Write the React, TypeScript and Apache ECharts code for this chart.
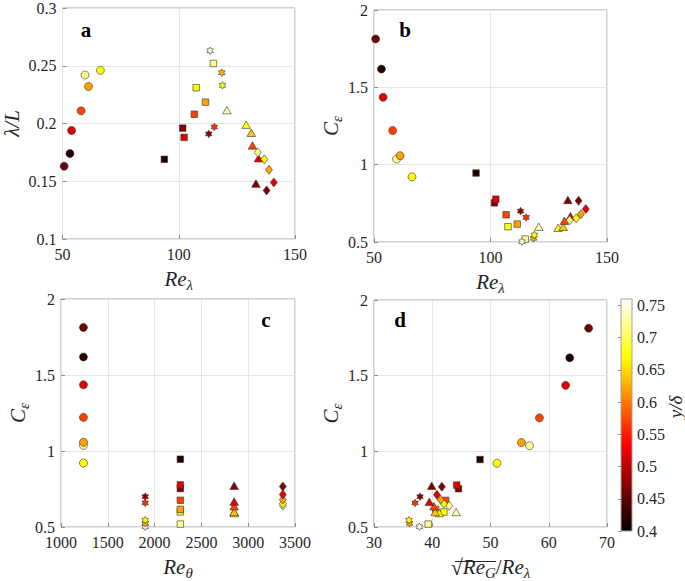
import React, { useEffect, useRef } from 'react';
import * as echarts from 'echarts';

const FONT = 'Liberation Serif';
const TEXT = '#262626';

// ---- data: y/delta (colour), Re_lambda, lambda/L, C_eps, sqrt(Re_G)/Re_lambda, Re_theta
const circleYd = [0.46, 0.42, 0.52, 0.57, 0.72, 0.62, 0.67];
const circleReLambda = [50.7, 53.2, 53.9, 58.0, 59.7, 61.2, 66.3];
const circleLambdaL = [0.163, 0.174, 0.194, 0.211, 0.242, 0.232, 0.246];
const circleCeps = [1.813, 1.618, 1.436, 1.221, 1.037, 1.058, 0.921];
const circleRatio = [66.85, 63.6, 62.9, 58.4, 56.7, 55.3, 51.1];
const circleReTheta = 1240;

const squareYd = [0.42, 0.47, 0.52, 0.57, 0.67, 0.62, 0.72];
const squareReLambda = [93.8, 101.7, 102.3, 106.7, 107.5, 111.5, 114.9];
const squareLambdaL = [0.169, 0.196, 0.188, 0.208, 0.231, 0.2185, 0.252];
const squareCeps = [0.946, 0.753, 0.777, 0.676, 0.599, 0.616, 0.519];
const squareRatio = [48.2, 44.5, 44.2, 42.3, 42.0, 40.6, 39.3];
const squareReTheta = 2275;

const hexYd = [0.75, 0.63, 0.67, 0.48, 0.56];
const hexReLambda = [113.5, 118.5, 118.8, 112.9, 115.3];
const hexLambdaL = [0.263, 0.244, 0.233, 0.191, 0.197];
const hexCeps = [0.502, 0.524, 0.545, 0.7, 0.659];
const hexRatio = [37.8, 36.1, 36.0, 37.9, 37.05];
const hexReTheta = 1900;

const triYd = [0.73, 0.67, 0.64, 0.57, 0.52, 0.47];
const triReLambda = [120.7, 129.0, 131.2, 131.7, 134.3, 133.2];
const triLambdaL = [0.2116, 0.199, 0.192, 0.181, 0.17, 0.148];
const triCeps = [0.599, 0.592, 0.599, 0.637, 0.667, 0.772];
const triRatio = [44.1, 41.2, 40.5, 40.3, 39.5, 39.9];
const triReTheta = 2850;

const diaYd = [0.72, 0.67, 0.62, 0.52, 0.47];
const diaReLambda = [134.0, 136.8, 138.8, 140.9, 137.8];
const diaLambdaL = [0.175, 0.169, 0.16, 0.149, 0.142];
const diaCeps = [0.641, 0.653, 0.68, 0.713, 0.766];
const diaRatio = [42.9, 42.0, 41.45, 40.8, 41.65];
const diaReTheta = 3370;

// axis ranges [min, max, interval]
const reLambdaAxis = [50, 150, 50];
const lambdaLAxis = [0.1, 0.3, 0.05];
const cepsAxis = [0.5, 2, 0.5];
const reThetaAxis = [1000, 3500, 500];
const ratioAxis = [30, 70, 10];
const ydAxis = [0.4, 0.76, 0.05];

// MATLAB "hot" colormap
const HOT = ['#000000', '#550000', '#aa0000', '#ff0000', '#ff5500', '#ffaa00', '#ffff00', '#ffff80', '#ffffff'];

const HEX_PATH =
  'path://M0,-100L29,-50L87,-50L58,0L87,50L29,50L0,100L-29,50L-87,50L-58,0L-87,-50L-29,-50Z';

const groups = [
  { symbol: 'circle', size: 8, yd: circleYd, reL: circleReLambda, lamL: circleLambdaL, ceps: circleCeps, ratio: circleRatio, reT: circleReTheta },
  { symbol: 'rect', size: 6.5, yd: squareYd, reL: squareReLambda, lamL: squareLambdaL, ceps: squareCeps, ratio: squareRatio, reT: squareReTheta },
  { symbol: HEX_PATH, size: [6.5, 7.5], yd: hexYd, reL: hexReLambda, lamL: hexLambdaL, ceps: hexCeps, ratio: hexRatio, reT: hexReTheta },
  { symbol: 'triangle', size: [8.5, 7.5], yd: triYd, reL: triReLambda, lamL: triLambdaL, ceps: triCeps, ratio: triRatio, reT: triReTheta },
  { symbol: 'diamond', size: [7, 9], yd: diaYd, reL: diaReLambda, lamL: diaLambdaL, ceps: diaCeps, ratio: diaRatio, reT: diaReTheta },
];

const rich = {
  i: { fontFamily: FONT, fontStyle: 'italic', fontSize: 21, lineHeight: 26, color: TEXT },
  s: { fontFamily: FONT, fontStyle: 'italic', fontSize: 15, lineHeight: 14, verticalAlign: 'bottom', color: TEXT },
  n: { fontFamily: FONT, fontSize: 21, lineHeight: 26, color: TEXT },
  r: { fontFamily: FONT, fontSize: 22, lineHeight: 26, color: TEXT },
};

const plainLabel = (v: number) => String(v);
const labelStyle = { fontFamily: FONT, fontSize: 16, color: TEXT };

function xAxisCfg(grid: number, range: number[], name: string, gap: number) {
  return {
    type: 'value', gridIndex: grid, min: range[0], max: range[1], interval: range[2],
    name, nameLocation: 'middle', nameGap: gap, nameTextStyle: { fontFamily: FONT, rich },
    axisLine: { show: false },
    axisTick: { show: true, inside: true, length: 4, lineStyle: { color: '#8c8c8c' } },
    axisLabel: { ...labelStyle, margin: 7, formatter: plainLabel },
    splitLine: { show: true, lineStyle: { color: '#e6e6e6', width: 1 } },
  };
}
function yAxisCfg(grid: number, range: number[], name: string, gap: number) {
  return {
    type: 'value', gridIndex: grid, min: range[0], max: range[1], interval: range[2],
    name, nameLocation: 'middle', nameGap: gap, nameTextStyle: { fontFamily: FONT, rich },
    axisLine: { show: false },
    axisTick: { show: true, inside: true, length: 4, lineStyle: { color: '#8c8c8c' } },
    axisLabel: { ...labelStyle, margin: 6, formatter: plainLabel },
    splitLine: { show: true, lineStyle: { color: '#e6e6e6', width: 1 } },
  };
}

function buildOption() {
  const grids: any[] = [
    { left: 62, top: 7, width: 233, height: 232 },
    { left: 374, top: 10, width: 233, height: 232 },
    { left: 61, top: 299, width: 234, height: 233 },
    { left: 374, top: 300, width: 233, height: 232 },
  ].map((g) => ({ ...g, show: true, borderColor: '#a0a0a0', borderWidth: 1, backgroundColor: '#fff' }));
  grids.push({
    left: 621, top: 299, width: 11, height: 232, show: true, borderColor: '#a0a0a0', borderWidth: 1,
    backgroundColor: {
      type: 'linear', x: 0, y: 1, x2: 0, y2: 0,
      colorStops: [
        { offset: 0, color: '#000000' },
        { offset: 0.375, color: '#ff0000' },
        { offset: 0.75, color: '#ffff00' },
        { offset: 1, color: '#ffffff' },
      ],
    },
  });

  const xAxes: any[] = [
    xAxisCfg(0, reLambdaAxis, '{i|Re}{s|λ}', 27),
    xAxisCfg(1, reLambdaAxis, '{i|Re}{s|λ}', 27),
    xAxisCfg(2, reThetaAxis, '{i|Re}{s|θ}', 27),
    xAxisCfg(3, ratioAxis, '{r|√}{i|Re}{s|G}{n|/}{i|Re}{s|λ}', 27),
    { type: 'value', gridIndex: 4, show: false, min: 0, max: 1 },
  ];
  const yAxes: any[] = [
    yAxisCfg(0, lambdaLAxis, '{i|λ/L}', 38),
    yAxisCfg(1, cepsAxis, '{i|C}{s|ε}', 26),
    yAxisCfg(2, cepsAxis, '{i|C}{s|ε}', 24),
    yAxisCfg(3, cepsAxis, '{i|C}{s|ε}', 26),
    {
      type: 'value', gridIndex: 4, position: 'right', min: ydAxis[0], max: ydAxis[1], interval: ydAxis[2],
      axisLine: { show: false },
      axisTick: { show: true, inside: true, length: 3, lineStyle: { color: '#8c8c8c' } },
      axisLabel: { ...labelStyle, margin: 5, showMaxLabel: false, formatter: plainLabel },
      splitLine: { show: false },
    },
  ];

  const series: any[] = [];
  for (let p = 0; p < 4; p++) {
    for (const g of groups) {
      const data = g.yd.map((yd, i) => {
        const x = p === 0 || p === 1 ? g.reL[i] : p === 2 ? g.reT : g.ratio[i];
        const y = p === 0 ? g.lamL[i] : g.ceps[i];
        return [x, y, yd];
      });
      series.push({
        type: 'scatter', xAxisIndex: p, yAxisIndex: p, data,
        symbol: g.symbol, symbolSize: g.size,
        itemStyle: { borderColor: '#333', borderWidth: 0.6, opacity: 1 },
        emphasis: { disabled: true },
      });
    }
  }

  const letter = (t: string, x: number, y: number) => ({
    type: 'text', x, y, z: 100,
    style: { text: t, font: `bold 21px ${FONT}`, fill: '#000', textAlign: 'center', textVerticalAlign: 'middle', align: 'center', verticalAlign: 'middle' },
  });

  return {
    animation: false,
    backgroundColor: '#fff',
    textStyle: { fontFamily: FONT },
    grid: grids,
    xAxis: xAxes,
    yAxis: yAxes,
    visualMap: {
      type: 'continuous', show: false, min: ydAxis[0], max: ydAxis[1], dimension: 2,
      seriesIndex: series.map((_, i) => i),
      inRange: { color: HOT },
    },
    series,
    graphic: [
      letter('a', 86, 30),
      letter('b', 405, 30),
      letter('c', 266, 320),
      letter('d', 400, 320),
      {
        type: 'line', z: 100,
        shape: { x1: 455, y1: 561.5, x2: 496, y2: 561.5 },
        style: { stroke: TEXT, lineWidth: 1 },
      },
      {
        type: 'text', x: 675, y: 407, rotation: Math.PI / 2, z: 100,
        style: {
          text: 'y/δ', font: `italic 19px ${FONT}`, fill: TEXT,
          textAlign: 'center', textVerticalAlign: 'middle', align: 'center', verticalAlign: 'middle',
        },
      },
    ],
  };
}

const CSS = `#fig svg text, #fig svg tspan { font-family: 'Liberation Serif', serif !important; }`;

export default function App() {
  const ref = useRef<HTMLDivElement>(null);
  useEffect(() => {
    document.body.style.margin = '0';
    const chart = echarts.init(ref.current!, null, { renderer: 'svg' });
    chart.setOption(buildOption() as any);
    return () => chart.dispose();
  }, []);
  return (
    <>
      <style>{CSS}</style>
      <div id="fig" ref={ref} style={{ width: 685, height: 581 }} />
    </>
  );
}
